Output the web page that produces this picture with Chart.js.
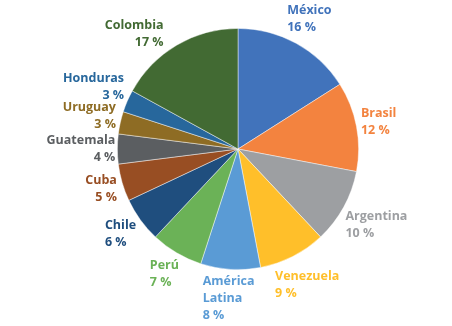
<!DOCTYPE html>
<html>
<head>
<meta charset="utf-8">
<script src="https://cdn.jsdelivr.net/npm/chart.js@4/dist/chart.umd.min.js"></script>
<style>
  html, body { margin: 0; padding: 0; background: #fff; }
  #wrap { width: 452px; height: 326px; }
</style>
</head>
<body>
<div id="wrap"><canvas id="c" width="452" height="326"></canvas></div>
<script>
const paises = ['México', 'Brasil', 'Argentina', 'Venezuela', 'América Latina', 'Perú',
  'Chile', 'Cuba', 'Guatemala', 'Uruguay', 'Honduras', 'Colombia'];
const porcentajes = [16, 12, 10, 9, 8, 7, 6, 5, 4, 3, 3, 17];
const colores = ['#4173BB', '#F3833F', '#9D9FA2', '#FFBF2A', '#5A9BD5', '#6BB257',
  '#1F4E7E', '#984E23', '#5B5E61', '#8E6C24', '#27679C', '#426A33'];

const FONT = 'bold 12.5px "Open Sans", sans-serif';
const LINE_H = 17;

// etiquetas fuera del sector, como en Excel
const etiquetas = {
  id: 'etiquetas',
  afterDatasetsDraw(chart) {
    const ctx = chart.ctx;
    const meta = chart.getDatasetMeta(0);
    ctx.save();
    ctx.font = FONT;
    ctx.textBaseline = 'middle';
    meta.data.forEach((arc, i) => {
      const p = arc.getProps(['x', 'y', 'startAngle', 'endAngle', 'outerRadius'], true);
      let mid = (p.startAngle + p.endAngle) / 2;

      let lines = [paises[i]];
      if (ctx.measureText(paises[i]).width > 80) lines = paises[i].split(' ');
      lines.push(porcentajes[i] + ' %');

      const w = Math.max(...lines.map(l => ctx.measureText(l).width));
      const h = lines.length * LINE_H;

      // si la etiqueta de la izquierda se sale por arriba, girarla hacia el lado
      let cx, cy;
      for (let n = 0; n < 40; n++) {
        const dx = Math.cos(mid), dy = Math.sin(mid);
        const dist = p.outerRadius + 2 + Math.abs(dx) * w / 2 + Math.abs(dy) * h / 2;
        cx = p.x + dist * dx;
        cy = p.y + dist * dy;
        if (dx > 0 || cy - h / 2 >= 16) break;
        mid -= 0.02;
      }

      // grados desde arriba en sentido horario
      const deg = ((mid + Math.PI / 2) * 180 / Math.PI + 360) % 360;
      const derecha = deg > 240 && deg < 360;

      ctx.fillStyle = colores[i];
      ctx.textAlign = derecha ? 'right' : 'left';
      const tx = derecha ? cx + w / 2 : cx - w / 2;
      lines.forEach((l, k) => {
        ctx.fillText(l, tx, cy - h / 2 + LINE_H / 2 + k * LINE_H);
      });
    });
    ctx.restore();
  }
};

new Chart(document.getElementById('c'), {
  type: 'pie',
  data: {
    labels: paises,
    datasets: [{
      data: porcentajes,
      backgroundColor: colores,
      borderColor: 'rgba(255,255,255,0.6)',
      borderWidth: 0.75
    }]
  },
  options: {
    responsive: false,
    animation: false,
    layout: { padding: { left: 117, right: 93, top: 28, bottom: 56 } },
    plugins: {
      legend: { display: false },
      tooltip: { enabled: false }
    }
  },
  plugins: [etiquetas]
});
</script>
</body>
</html>
